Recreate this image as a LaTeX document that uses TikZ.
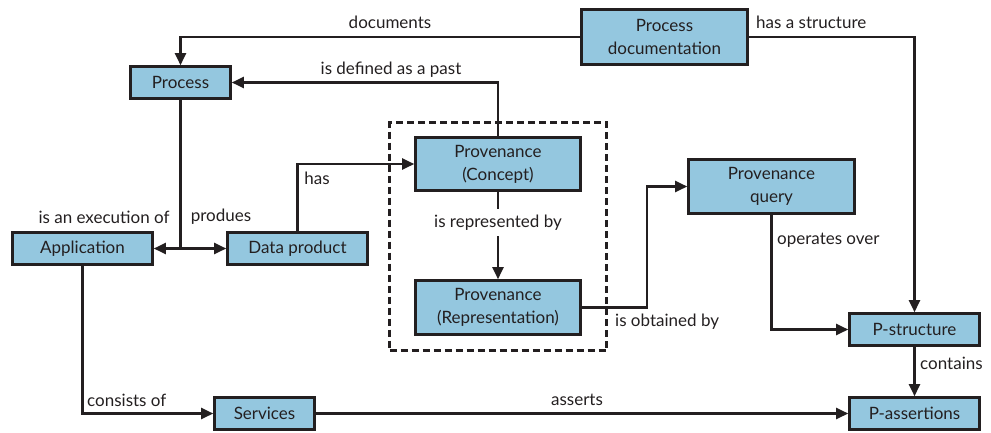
\documentclass[tikz,border=0pt]{standalone}
\usepackage{fontspec}
\setmainfont{Lato}
\usetikzlibrary{arrows.meta}
\definecolor{boxfill}{RGB}{148,199,223}
\definecolor{ink}{RGB}{35,31,32}
\begin{document}
\begin{tikzpicture}[x=1pt,y=-1pt,
  concept/.style={draw=ink, fill=boxfill, line width=2.6pt, align=center,
    inner sep=0pt, text=ink, font=\fontsize{17}{23}\selectfont},
  plain/.style={draw=ink, line width=2.2pt},
  link/.style={plain, -{Triangle[length=12pt,width=11pt]}},
  lbl/.style={text=ink, font=\fontsize{17}{19}\selectfont, inner sep=1pt},
  grouping/.style={draw=ink, line width=2.2pt, dash pattern=on 7pt off 4pt, inner sep=0pt}]
\useasboundingbox (0,0) rectangle (991,432);

% grouping frame around the two provenance views
\node[grouping, minimum width=217pt, minimum height=228pt] (group) at (498,236.5) {};

% concepts
\node[concept, minimum width=100pt, minimum height=32pt] (process) at (180.5,82.5) {Process};
\node[concept, minimum width=166pt, minimum height=55pt] (pdoc) at (664.5,37) {Process\\documentation};
\node[concept, minimum width=140pt, minimum height=32pt] (app) at (82.5,248.5) {Application};
\node[concept, minimum width=140pt, minimum height=32pt] (data) at (297.5,248.5) {Data product};
\node[concept, minimum width=165pt, minimum height=53pt] (concept) at (498,164) {Provenance\\(Concept)};
\node[concept, minimum width=165pt, minimum height=54pt] (rep) at (498,307.5) {Provenance\\(Representation)};
\node[concept, minimum width=166pt, minimum height=54pt] (query) at (771.5,186.5) {Provenance\\query};
\node[concept, minimum width=130pt, minimum height=32pt] (pstruct) at (914.5,329.5) {P-structure};
\node[concept, minimum width=130pt, minimum height=32pt] (passert) at (914.5,413.5) {P-assertions};
\node[concept, minimum width=100pt, minimum height=32pt] (services) at (264.5,413.5) {Services};

% helper points
\coordinate (split) at (process.south |- app.east);
\coordinate (bend) at (647,250);

% label that interrupts its own connector
\node[lbl, fill=white, minimum height=27pt, inner sep=0pt] (repby) at (498,222.5) {is represented by};

% connectors
\draw[link] (pdoc.west) -| (process.north);
\draw[link] (pdoc.east) -| (pstruct.north);
\draw[link] (concept.north) |- (process.east);
\draw[plain] (process.south) -- (split);
\draw[link] (split) -- (app.east);
\draw[link] (split) -- (data.west);
\draw[link] (data.north) |- (concept.west);
\draw[plain] (concept.south) -- (repby.north);
\draw[link] (repby.south) -- (rep.north);
\draw[link] (rep.east) -- (rep.east -| bend) |- (query.west);
\draw[link] (query.south) |- (pstruct.west);
\draw[link] (pstruct.south) -- (passert.north);
\draw[link] (app.south) |- (services.west);
\draw[link] (services.east) -- (passert.west);

% connector labels
\node[lbl] (ldoc) at (390,22) {documents};
\node[lbl, anchor=west] (lstruct) at (755,22) {has a structure};
\node[lbl] (lpast) at (391,70) {is defined as a past};
\node[lbl] (lexec) at (104,217) {is an execution of};
\node[lbl] (lprod) at (221,217) {produes};
\node[lbl] (lhas) at (317,178) {has};
\node[lbl, anchor=west] (lobt) at (614,322) {is obtained by};
\node[lbl, anchor=west] (lover) at (776,240) {operates over};
\node[lbl, anchor=west] (lcont) at (919,363) {contains};
\node[lbl, anchor=west] (lcons) at (86,400) {consists of};
\node[lbl] (lass) at (577,400) {asserts};
\end{tikzpicture}
\end{document}
